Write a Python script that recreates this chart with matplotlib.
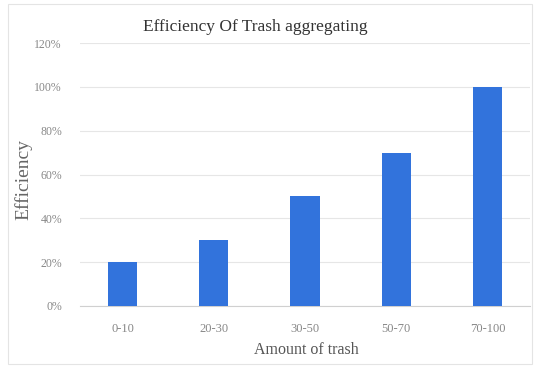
import matplotlib.pyplot as plt
from matplotlib.patches import Rectangle

categories = ['0-10', '20-30', '30-50', '50-70', '70-100']
efficiency = [20, 30, 50, 70, 100]
yticks = [0, 20, 40, 60, 80, 100, 120]

plt.rcParams['font.family'] = 'Liberation Serif'

fig = plt.figure(figsize=(5.36, 3.68), dpi=100)
ax = fig.add_axes([80 / 536, 1 - 306 / 368, 450 / 536, (306 - 43) / 368])

x = list(range(len(categories)))
ax.bar(x, efficiency, width=0.32, color='#3273dc', zorder=3)

ax.set_xlim(-0.466, 4.466)
ax.set_ylim(0, 120)
ax.set_yticks(yticks)
ax.set_yticklabels([f'{v}%' for v in yticks], fontsize=8.5, color='#888888')
ax.set_xticks(x)
ax.set_xticklabels(categories, fontsize=9, color='#888888')
ax.tick_params(length=0)
ax.tick_params(axis='y', pad=13)
ax.tick_params(axis='x', pad=12)
ax.grid(axis='y', color='#e6e6e6', linewidth=0.8, zorder=0)
for s in ['top', 'right', 'left']:
    ax.spines[s].set_visible(False)
ax.spines['bottom'].set_color('#d0d0d0')

fig.text(255 / 536, 1 - 27 / 368, 'Efficiency Of Trash aggregating', ha='center', va='center',
         fontsize=12.5, color='#333333')
fig.text(306 / 536, 1 - 350 / 368, 'Amount of trash', ha='center', va='center',
         fontsize=11.5, color='#555555')
fig.text(23 / 536, 1 - 180 / 368, 'Efficiency', ha='center', va='center', rotation=90,
         fontsize=14, color='#666666')

fig.patches.append(Rectangle((8 / 536, 4 / 368), 524 / 536, 360 / 368, transform=fig.transFigure,
                             fill=False, edgecolor='#e4e4e4', linewidth=0.8))

fig.savefig('out.png', dpi=100)
